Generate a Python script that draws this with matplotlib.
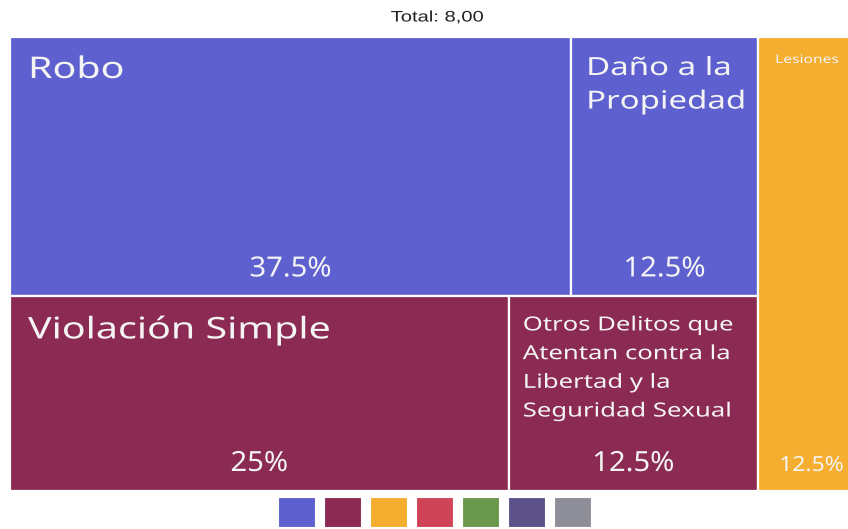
import matplotlib
matplotlib.use('Agg')
import matplotlib.pyplot as plt
from matplotlib.patches import Rectangle
from matplotlib.patheffects import AbstractPathEffect
from matplotlib.transforms import Affine2D

# data
categories = ['Robo', 'Daño a la Propiedad', 'Violación Simple',
              'Otros Delitos que Atentan contra la Libertad y la Seguridad Sexual', 'Lesiones']
display_labels = ['Robo', 'Daño a la\nPropiedad', 'Violación Simple',
                  'Otros Delitos que\nAtentan contra la\nLibertad y la\nSeguridad Sexual', 'Lesiones']
values = [3, 1, 2, 1, 1]
groups = [0, 0, 1, 1, 2]
group_colors = ['#5D60CE', '#8B2A52', '#F5AE2F']
legend_colors = ['#5D60CE', '#8B2A52', '#F5AE2F', '#CF4457', '#6A994E', '#5C5289', '#8E8E98']

# styles
label_sizes = [21.5, 18, 21.5, 14, 8.5]
label_pad = [(18, 18), (15, 18), (18, 18), (14, 18), (17, 15)]  # px from left / top
label_spacing = [1.5, 1.45, 1.5, 1.58, 1.5]
pct_sizes = [20, 20, 20, 20, 15]
pct_stretch = [1.05, 1.05, 1.05, 1.05, 1.1]
STRETCH = 1.32  # the reference text is drawn wide


class StretchX(AbstractPathEffect):
    """Draw text paths stretched horizontally around the text anchor."""

    def __init__(self, sx, text):
        super().__init__()
        self.sx = sx
        self.text = text

    def draw_path(self, renderer, gc, tpath, affine, rgbFace=None):
        bb = self.text.get_window_extent(renderer)
        x0 = bb.x0 if self.text.get_horizontalalignment() == 'left' else (bb.x0 + bb.x1) / 2
        t = affine + Affine2D().translate(-x0, 0).scale(self.sx, 1).translate(x0, 0)
        renderer.draw_path(gc, tpath, t, rgbFace)


def stretch(text, sx):
    text.set_path_effects([StretchX(sx, text)])
    return text


total = sum(values)
group_sums = [sum(v for v, g in zip(values, groups) if g == k) for k in range(3)]

plt.rcParams['font.family'] = ['Noto Sans', 'DejaVu Sans']
fig = plt.figure(figsize=(8.48, 5.29), dpi=100)
W, H = 848, 529
PX = 0.72  # points per pixel at dpi 100
# axes runs off the right edge of the figure (chart is cropped there)
ax = fig.add_axes([10 / W, (H - 491) / H, 855 / W, 454 / H])
ax.set_xlim(0, 1)
ax.set_ylim(0, 1)
ax.axis('off')

# layout: groups 0 and 1 stacked in a left column, group 2 as a right column
left_share = (group_sums[0] + group_sums[1]) / total
rects = []
y_top = 1.0
for k in (0, 1):
    gh = group_sums[k] / (group_sums[0] + group_sums[1])
    x = 0.0
    for i, (v, g) in enumerate(zip(values, groups)):
        if g != k:
            continue
        w = left_share * v / group_sums[k]
        rects.append((i, x, y_top - gh, w, gh))
        x += w
    y_top -= gh
x = left_share
for i, (v, g) in enumerate(zip(values, groups)):
    if g == 2:
        w = v / total
        rects.append((i, x, 0.0, w, 1.0))
        x += w

text_color = '#F4F4F4'
for i, x0, y0, w, h in rects:
    ax.add_patch(Rectangle((x0, y0), w, h, facecolor=group_colors[groups[i]],
                           edgecolor='white', linewidth=1.6))
    px, py = label_pad[i]
    t = ax.annotate(display_labels[i], (x0, y0 + h), xytext=(px * PX, -(py + 1) * PX),
                    textcoords='offset points', ha='left', va='top', color=text_color,
                    fontsize=label_sizes[i], linespacing=label_spacing[i])
    stretch(t, STRETCH)
    pct = f'{values[i] / total * 100:g}%'
    t = ax.annotate(pct, (x0 + w / 2, y0), xytext=(0, 20 * PX), textcoords='offset points',
                    ha='center', va='baseline', color=text_color, fontsize=pct_sizes[i])
    stretch(t, pct_stretch[i])

t = fig.text(437 / W, 1 - 17.5 / H, f'Total: {total:.2f}'.replace('.', ','), ha='center', va='center',
             fontsize=11, color='#222222', family=['Liberation Sans', 'DejaVu Sans'])
stretch(t, STRETCH)

# legend swatches
sw, sh, step = 37 / W, 30 / H, 46 / W
x_start = 278 / W
for j, c in enumerate(legend_colors):
    fig.patches.append(Rectangle((x_start + j * step, 2 / H), sw, sh, facecolor=c,
                                 edgecolor='white', linewidth=0.8, transform=fig.transFigure, figure=fig))

fig.savefig('out.png', dpi=100)
